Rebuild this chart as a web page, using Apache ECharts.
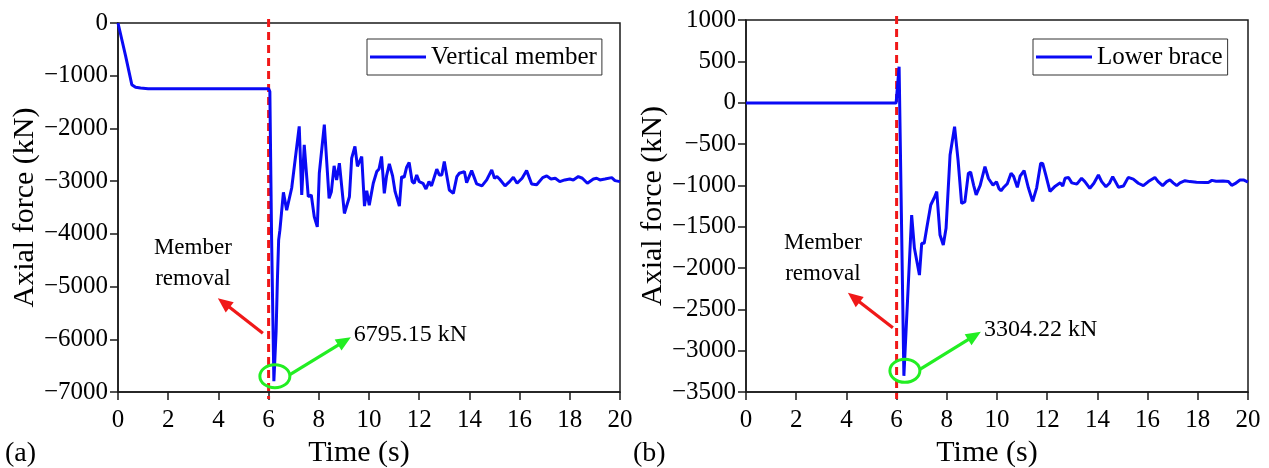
<!DOCTYPE html>
<html>
<head>
<meta charset="utf-8">
<script src="https://cdn.jsdelivr.net/npm/echarts@6/dist/echarts.min.js"></script>
<style>
  html, body { margin: 0; padding: 0; background: #ffffff; }
  #chart { width: 1269px; height: 468px; }
</style>
</head>
<body>
<div id="chart"></div>
<script>
// ---- Data: axial force histories after member removal ----
const REMOVAL_TIME = 6;

// Panel (a): vertical member
const verticalTime = [0, 0.3, 0.55, 0.7, 0.9, 1.2, 6.0, 6.05, 6.12, 6.21, 6.3, 6.35, 6.4, 6.45, 6.59, 6.72, 6.92, 6.98,
  7.22, 7.32, 7.42, 7.58, 7.7, 7.82, 7.94, 8.02, 8.08, 8.22, 8.41, 8.5, 8.61, 8.71, 8.82, 9.02, 9.22, 9.31, 9.44,
  9.54, 9.6, 9.71, 9.82, 9.91, 10.01, 10.17, 10.31, 10.4, 10.5, 10.61, 10.7, 10.81, 10.94, 11.04, 11.21, 11.3, 11.4,
  11.5, 11.6, 11.72, 11.8, 11.9, 12.0, 12.15, 12.27, 12.39, 12.49, 12.7, 12.8, 12.9, 13.0, 13.2, 13.36, 13.5, 13.6,
  13.8, 13.89, 14.09, 14.29, 14.5, 14.69, 14.89, 15.0, 15.1, 15.2, 15.42, 15.6, 15.75, 15.9, 16.1, 16.28, 16.48,
  16.68, 16.92, 17.08, 17.25, 17.42, 17.6, 17.8, 18.0, 18.14, 18.34, 18.5, 18.7, 18.94, 19.07, 19.2, 19.4, 19.67,
  19.8, 20];
const verticalForce = [0, -620, -1170, -1220, -1235, -1245, -1245, -1300, -4100, -6795.15, -5840, -4885, -4120, -3930,
  -3213, -3550, -3130, -3150, -1960, -3263, -2310, -3295, -3263, -3677, -3868, -2850, -2860, -1927, -3327, -3200,
  -2710, -2977, -2660, -3613, -3296, -2563, -2342, -2720, -2750, -2532, -3473, -3180, -3455, -3040, -2818, -2770,
  -2532, -3231, -2900, -2672, -2900, -3200, -3473, -2914, -2930, -2735, -2646, -3009, -3040, -2882, -3009, -3040,
  -3149, -3009, -3090, -2773, -2882, -2882, -2627, -3168, -3231, -2914, -2850, -2818, -3028, -2800, -3053, -3090,
  -2977, -2786, -2945, -2914, -2960, -3090, -3009, -2926, -3040, -2945, -2800, -3053, -3070, -2933, -2900, -2960,
  -2945, -3009, -2977, -2960, -2977, -2914, -2945, -3040, -2960, -2945, -2977, -2960, -2933, -2990, -3009];

// Panel (b): lower brace
const braceTime = [0, 5.98, 6.0, 6.1, 6.29, 6.6, 6.71, 6.91, 7.0, 7.1, 7.2, 7.36, 7.5, 7.6, 7.73, 7.86, 7.97, 8.13,
  8.31, 8.45, 8.59, 8.72, 8.86, 8.95, 9.07, 9.17, 9.33, 9.52, 9.66, 9.84, 9.98, 10.08, 10.16, 10.25, 10.41, 10.56,
  10.66, 10.81, 10.92, 11.08, 11.25, 11.42, 11.58, 11.74, 11.82, 11.94, 12.11, 12.32, 12.52, 12.62, 12.71, 12.85,
  12.98, 13.18, 13.37, 13.5, 13.7, 13.86, 14.04, 14.17, 14.34, 14.48, 14.61, 14.84, 15.04, 15.23, 15.43, 15.63,
  15.83, 16.03, 16.29, 16.42, 16.6, 16.76, 16.89, 17.02, 17.16, 17.29, 17.49, 17.69, 17.95, 18.29, 18.42, 18.56,
  18.73, 19.0, 19.22, 19.35, 19.48, 19.68, 19.82, 20];
const braceForce = [-5, -5, 0, 435, -3304.22, -1359, -1762, -2085, -1702, -1702, -1520, -1238, -1150, -1077, -1601,
  -1722, -1520, -633, -290, -700, -1217, -1200, -854, -840, -1000, -1115, -1000, -774, -917, -997, -957, -1040,
  -1065, -1030, -980, -855, -890, -1024, -890, -823, -1030, -1194, -1030, -733, -735, -870, -1073, -1010, -970,
  -1010, -915, -905, -970, -985, -915, -955, -1036, -975, -875, -955, -1017, -975, -895, -1024, -1008, -904, -925,
  -975, -1004, -955, -904, -955, -1004, -955, -935, -970, -1004, -970, -944, -955, -962, -966, -966, -940, -951,
  -947, -955, -1000, -980, -935, -935, -960];

// Axis ranges and labels
const timeRange = [0, 20];
const timeStep = 2;
const verticalRange = [-7000, 0];
const verticalStep = 1000;
const braceRange = [-3500, 1000];
const braceStep = 500;
const seriesNames = ['Vertical member', 'Lower brace'];
const panelLetters = ['(a)', '(b)'];
const peakLabels = ['6795.15 kN', '3304.22 kN'];
const xTitle = 'Time (s)';
const yTitle = 'Axial force (kN)';
const removalText = 'Member\nremoval';

// ---- Styling ----
const FONT = '"Liberation Serif", "Times New Roman", serif';
const AXIS_COLOR = '#1a1a1a';
const LINE_BLUE = '#0a0af5';
const RED = '#f01818';
const GREEN = '#22ee22';

const pairs = (xs, ys) => xs.map((x, i) => [x, ys[i]]);
const minusSign = v => String(v).replace('-', '\u2212');

const grids = [
  { left: 118, right: 649, top: 23, bottom: 76 },
  { left: 746, right: 21, top: 20, bottom: 76 }
];

function xAxisFor(idx) {
  return {
    type: 'value', gridIndex: idx, min: timeRange[0], max: timeRange[1], interval: timeStep,
    name: xTitle, nameLocation: 'middle', nameGap: 43,
    nameTextStyle: { fontFamily: FONT, fontSize: 30, color: '#000', padding: [0, 20, 0, 0] },
    axisLine: { show: true, onZero: false, lineStyle: { color: AXIS_COLOR, width: 1.5 } },
    axisTick: { show: true, inside: false, length: 8, lineStyle: { color: AXIS_COLOR, width: 1.5 } },
    axisLabel: { fontFamily: FONT, fontSize: 25, color: '#000', margin: 16, showMinLabel: true, showMaxLabel: true },
    splitLine: { show: false }
  };
}

function yAxisFor(idx, range, step, gap) {
  return {
    type: 'value', gridIndex: idx, min: range[0], max: range[1], interval: step,
    name: yTitle, nameLocation: 'middle', nameRotate: 90, nameGap: gap,
    nameTextStyle: { fontFamily: FONT, fontSize: 30, color: '#000' },
    axisLine: { show: true, onZero: false, lineStyle: { color: AXIS_COLOR, width: 1.5 } },
    axisTick: { show: true, inside: false, length: 8, lineStyle: { color: AXIS_COLOR, width: 1.5 } },
    axisLabel: { fontFamily: FONT, fontSize: 25, color: '#000', margin: 10, formatter: minusSign,
      showMinLabel: true, showMaxLabel: true },
    splitLine: { show: false }
  };
}

function legendFor(idx, left) {
  return {
    show: true, data: [seriesNames[idx]], left: left, top: 39, orient: 'vertical',
    icon: 'rect', itemWidth: 56, itemHeight: 3,
    padding: [5, 5, 5, 3], borderColor: '#333', borderWidth: 1, backgroundColor: '#fff',
    textStyle: { fontFamily: FONT, fontSize: 25, color: '#000', lineHeight: 26 }
  };
}

const chart = echarts.init(document.getElementById('chart'), null, { renderer: 'canvas' });

chart.setOption({
  animation: false,
  backgroundColor: '#ffffff',
  grid: grids.map(g => Object.assign({ show: true, borderColor: AXIS_COLOR, borderWidth: 1.5,
    backgroundColor: 'transparent', containLabel: false, outerBoundsMode: 'none' }, g)),
  xAxis: [xAxisFor(0), xAxisFor(1)],
  yAxis: [yAxisFor(0, verticalRange, verticalStep, 72), yAxisFor(1, braceRange, braceStep, 73)],
  legend: [legendFor(0, 367), legendFor(1, 1033)],
  series: [
    { name: seriesNames[0], type: 'line', xAxisIndex: 0, yAxisIndex: 0, data: pairs(verticalTime, verticalForce),
      showSymbol: false, symbol: 'none', lineStyle: { color: LINE_BLUE, width: 3 }, itemStyle: { color: LINE_BLUE },
      z: 4 },
    { name: seriesNames[1], type: 'line', xAxisIndex: 1, yAxisIndex: 1, data: pairs(braceTime, braceForce),
      showSymbol: false, symbol: 'none', lineStyle: { color: LINE_BLUE, width: 3 }, itemStyle: { color: LINE_BLUE },
      z: 4 }
  ]
});

// Arrow made of a shaft and a filled triangular head ending at (x2, y2)
function arrow(x1, y1, x2, y2, color) {
  const dx = x2 - x1, dy = y2 - y1;
  const len = Math.hypot(dx, dy);
  const ux = dx / len, uy = dy / len;
  const headLen = 15, headHalf = 6.5;
  const bx = x2 - ux * headLen, by = y2 - uy * headLen;
  return [
    { type: 'line', z: 10, shape: { x1: x1, y1: y1, x2: bx + ux, y2: by + uy },
      style: { stroke: color, lineWidth: 3.2 } },
    { type: 'polygon', z: 10, shape: { points: [[x2, y2], [bx - uy * headHalf, by + ux * headHalf],
      [bx + uy * headHalf, by - ux * headHalf]] }, style: { fill: color } }
  ];
}

const panels = [
  { time: verticalTime, force: verticalForce, range: verticalRange },
  { time: braceTime, force: braceForce, range: braceRange }
];

const graphics = [];
panels.forEach((p, i) => {
  const finder = { xAxisIndex: i, yAxisIndex: i };
  // lowest point of the record: the peak axial force
  let k = 0;
  p.force.forEach((v, j) => { if (v < p.force[k]) k = j; });
  const P = chart.convertToPixel(finder, [p.time[k], p.force[k]]);
  const top = chart.convertToPixel(finder, [REMOVAL_TIME, p.range[1]]);
  const bot = chart.convertToPixel(finder, [REMOVAL_TIME, p.range[0]]);

  // removal instant
  graphics.push({ type: 'line', z: 3, shape: { x1: top[0], y1: top[1] - 4, x2: bot[0], y2: bot[1] + 7 },
    style: { stroke: RED, lineWidth: 3, lineDash: [8, 5] } });

  // ring around the peak
  graphics.push({ type: 'ellipse', z: 10, shape: { cx: P[0] + 1, cy: P[1] - 5, rx: 15, ry: 11.5 },
    style: { fill: 'none', stroke: GREEN, lineWidth: 3 } });
  graphics.push(...arrow(P[0] + 16, P[1] - 6.5, P[0] + 77, P[1] - 44, GREEN));
  graphics.push({ type: 'text', z: 10, x: P[0] + 80, y: P[1] - 46,
    style: { text: peakLabels[i], font: '24px ' + FONT, fill: '#000', verticalAlign: 'middle', align: 'left' } });

  // removal note
  graphics.push(...arrow(P[0] - 11, P[1] - 48, P[0] - 56, P[1] - 83, RED));
  graphics.push({ type: 'text', z: 10, x: P[0] - 81, y: P[1] - 117.5,
    style: { text: removalText, font: '23px ' + FONT, fill: '#000', align: 'center', verticalAlign: 'middle',
      lineHeight: 31 } });

  // panel letter
  const corner = chart.convertToPixel(finder, [timeRange[0], p.range[0]]);
  graphics.push({ type: 'text', z: 10, x: corner[0] - 113, y: corner[1] + 62,
    style: { text: panelLetters[i], font: '28px ' + FONT, fill: '#000', verticalAlign: 'middle', align: 'left' } });
});

chart.setOption({ graphic: graphics });
</script>
</body>
</html>
